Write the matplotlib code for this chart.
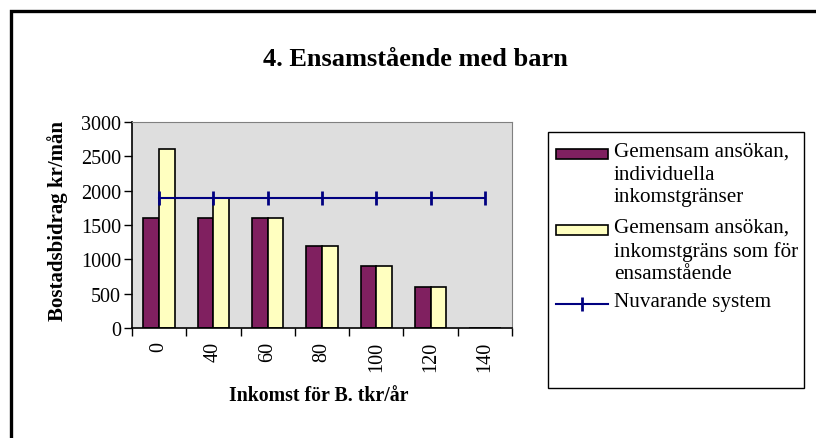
import matplotlib
matplotlib.use("Agg")
from matplotlib import pyplot as plt
from matplotlib.patches import Rectangle
from matplotlib.lines import Line2D
import numpy as np

plt.rcParams['font.family'] = ['Liberation Serif', 'DejaVu Serif']

categories = ['0', '40', '60', '80', '100', '120', '140']
individuella = [1600, 1600, 1600, 1200, 900, 600, 0]
ensamstaende = [2600, 1900, 1600, 1200, 900, 600, 0]
nuvarande = [1900, 1900, 1900, 1900, 1900, 1900, 1900]

labels = ['Gemensam ansökan,\nindividuella\ninkomstgränser',
          'Gemensam ansökan,\ninkomstgräns som för\nensamstående',
          'Nuvarande system']

purple = '#802060'
yellow = '#FFFFC0'
navy = '#000080'

W, H = 816, 439
fig = plt.figure(figsize=(W/100, H/100), dpi=100)

def fx(px):
    return px / W

def fy(py):
    return 1 - py / H

# outer frame (only top/left visible in the crop)
fig.patches.append(Rectangle((fx(10.5), -0.2), 1.5, fy(12) + 0.2, transform=fig.transFigure,
                             fill=False, edgecolor='black', linewidth=2.4, zorder=0))

ax = fig.add_axes([fx(132), fy(329), 380/W, 206/H])
ax.set_facecolor('#DEDEDE')

x = np.arange(len(categories))
w = 0.29
ax.bar(x - w/2, individuella, w, color=purple, edgecolor='black', linewidth=1.2, zorder=2)
ax.bar(x + w/2, ensamstaende, w, color=yellow, edgecolor='black', linewidth=1.2, zorder=2)
ax.plot(x, nuvarande, color=navy, linewidth=1.5, marker='|', markersize=10, markeredgewidth=2, zorder=3)

ax.set_xlim(-0.5, len(categories) - 0.5)
ax.set_ylim(0, 3000)
ax.set_yticks(np.arange(0, 3001, 500))
ax.set_xticks(x)
ax.set_xticklabels(categories, rotation=90, fontsize=14.5)
ax.set_xticks(np.arange(-0.5, len(categories)), minor=True)
ax.tick_params(axis='x', which='major', length=0, pad=9)
ax.tick_params(axis='x', which='minor', length=6, width=1, direction='out')
ax.tick_params(axis='y', length=6, width=1, direction='out', labelsize=14.5, pad=2)

for s in ['top', 'right']:
    ax.spines[s].set_color('#808080')
for s in ['left', 'bottom']:
    ax.spines[s].set_color('black')
    ax.spines[s].set_linewidth(1.2)

ax.set_ylabel('Bostadsbidrag kr/mån', fontsize=15, fontweight='bold')
ax.yaxis.set_label_coords((68 - 132) / 380, (329 - 221) / 206)
ax.set_xlabel('Inkomst för B. tkr/år', fontsize=14.3, fontweight='bold')
ax.xaxis.set_label_coords((319 - 132) / 380, (329 - 386) / 206)

fig.text(fx(415), fy(60), '4. Ensamstående med barn', fontsize=19, fontweight='bold',
         ha='center', va='center')

# legend, drawn by hand so the keys line up with the first text line
fig.patches.append(Rectangle((fx(548), fy(389)), 256/W, 256/H, transform=fig.transFigure,
                             fill=False, edgecolor='black', linewidth=1.0))
key_y = [155, 231, 305]
fig.patches.append(Rectangle((fx(556), fy(160)), 52/W, 10/H, transform=fig.transFigure,
                             facecolor=purple, edgecolor='black', linewidth=1.2))
fig.patches.append(Rectangle((fx(556), fy(236)), 52/W, 10/H, transform=fig.transFigure,
                             facecolor=yellow, edgecolor='black', linewidth=1.2))
fig.lines.append(Line2D([fx(556), fx(608)], [fy(305), fy(305)], transform=fig.transFigure,
                        color=navy, linewidth=1.5))
fig.lines.append(Line2D([fx(582)], [fy(305)], transform=fig.transFigure, color=navy,
                        marker='|', markersize=10, markeredgewidth=2))
for ky, lab in zip(key_y, labels):
    fig.text(fx(614), fy(ky - 12), lab, fontsize=15.2, ha='left', va='top', linespacing=1.25)

fig.savefig('out.png', dpi=100)
